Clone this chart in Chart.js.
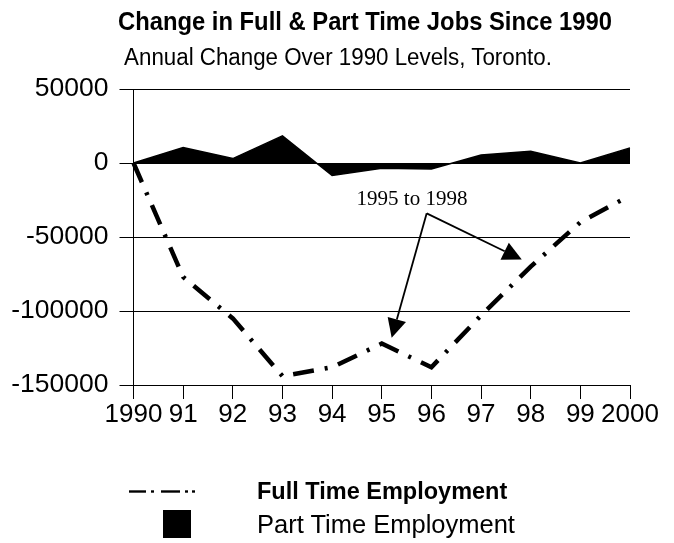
<!DOCTYPE html>
<html><head><meta charset="utf-8">
<script src="https://cdn.jsdelivr.net/npm/chart.js@4.4.0/dist/chart.umd.min.js"></script>
<style>
html,body{margin:0;padding:0;background:#fff;}
#wrap{position:relative;width:674px;height:543px;overflow:hidden;background:#fff;}
#c{position:absolute;left:0;top:0;}
.t{position:absolute;white-space:nowrap;font-family:"Liberation Sans",Arial,sans-serif;color:#000;line-height:1;}
</style></head><body>
<div id="wrap">
<canvas id="c" width="674" height="543"></canvas>
<div class="t" style="left:364.5px;top:21px;transform:translate(-50%,-50%) scaleX(0.915);font-weight:bold;font-size:26px;">Change in Full &amp; Part Time Jobs Since 1990</div>
<div class="t" style="left:338px;top:58px;transform:translate(-50%,-50%) scaleX(0.95);font-size:23.5px;">Annual Change Over 1990 Levels, Toronto.</div>
<svg style="position:absolute;left:0;top:0" width="674" height="543">
  <g stroke="#000" stroke-width="2.4">
    <line x1="129" y1="491.5" x2="146" y2="491.5"/>
    <line x1="151" y1="491.5" x2="154" y2="491.5"/>
    <line x1="161" y1="491.5" x2="180" y2="491.5"/>
    <line x1="185" y1="491.5" x2="188" y2="491.5"/>
    <line x1="192" y1="491.5" x2="195" y2="491.5"/>
  </g>
  <rect x="163" y="510" width="28" height="28" fill="#000"/>
</svg>
<div class="t" style="left:257px;top:491.5px;transform:translateY(-50%);font-weight:bold;font-size:23.5px;">Full Time Employment</div>
<div class="t" style="left:257px;top:525px;transform:translateY(-50%);font-size:25.5px;">Part Time Employment</div>
</div>
<script>
const years = ['1990','91','92','93','94','95','96','97','98','99','2000'];
const fullTime = [0, -77000, -105000, -144000, -138000, -122000, -138000, -103000, -70000, -40000, -22000];
const partTime = [0, 10400, 3000, 18300, -8500, -3500, -4000, 5400, 7900, 0, 10200];
const yTicks = [50000, 0, -50000, -100000, -150000];
const annotationText = '1995 to 1998';
// annotation anchor points in data space: [category index, value]
const annotTextPos = [5.61, -24600];
const annotOrigin = [5.905, -34000];
const annotTips = [[5.20, -118100], [7.82, -65200]];

const FONT = '"Liberation Sans", Arial, sans-serif';

const annot = {
  id: 'annot',
  afterDatasetsDraw(chart) {
    const {ctx, scales: {x, y}} = chart;
    const px = p => [x.getPixelForValue(p[0]), y.getPixelForValue(p[1])];
    ctx.save();
    ctx.fillStyle = '#000';
    ctx.strokeStyle = '#000';
    ctx.font = '21px "Liberation Serif", "Times New Roman", serif';
    ctx.textAlign = 'center';
    ctx.textBaseline = 'middle';
    const tp = px(annotTextPos);
    ctx.fillText(annotationText, tp[0], tp[1]);
    const o = px(annotOrigin);
    ctx.lineWidth = 1.8;
    annotTips.forEach(t => {
      const tip = px(t);
      const dx = tip[0] - o[0], dy = tip[1] - o[1];
      const len = Math.hypot(dx, dy);
      const ux = dx / len, uy = dy / len;
      const hl = 19, hw = 9.5;
      const bx = tip[0] - ux * hl, by = tip[1] - uy * hl;
      ctx.beginPath();
      ctx.moveTo(o[0], o[1]);
      ctx.lineTo(bx, by);
      ctx.stroke();
      ctx.beginPath();
      ctx.moveTo(tip[0], tip[1]);
      ctx.lineTo(bx - uy * hw, by + ux * hw);
      ctx.lineTo(bx + uy * hw, by - ux * hw);
      ctx.closePath();
      ctx.fill();
    });
    ctx.restore();
  }
};

new Chart(document.getElementById('c'), {
  type: 'line',
  data: {
    labels: years,
    datasets: [
      {
        label: 'Full Time Employment',
        data: fullTime,
        borderColor: '#000',
        borderWidth: 4.5,
        borderDash: [21, 11, 3, 11],
        borderCapStyle: 'butt',
        pointRadius: 0,
        fill: false,
        tension: 0,
        order: 0
      },
      {
        label: 'Part Time Employment',
        data: partTime,
        borderColor: '#000',
        backgroundColor: '#000',
        borderWidth: 1.5,
        pointRadius: 0,
        fill: 'origin',
        tension: 0,
        order: 1
      }
    ]
  },
  options: {
    responsive: false,
    animation: false,
    devicePixelRatio: 1,
    layout: {padding: {left: 0, right: 44, top: 89, bottom: 108}},
    plugins: {legend: {display: false}, title: {display: false}, tooltip: {enabled: false}},
    scales: {
      x: {
        type: 'category',
        offset: false,
        grid: {drawOnChartArea: false, drawTicks: true, tickLength: 14, color: '#000', lineWidth: 1},
        border: {display: true, color: '#000', width: 1},
        ticks: {font: {size: 26, family: FONT}, color: '#000', padding: 0, maxRotation: 0, autoSkip: false},
        afterFit: s => { s.height = 50; }
      },
      y: {
        min: -150000,
        max: 50000,
        afterBuildTicks: s => { s.ticks = yTicks.map(v => ({value: v})); },
        ticks: {font: {size: 26.5, family: FONT}, color: '#000', padding: 11, callback: v => String(v)},
        grid: {color: '#000', lineWidth: 1, tickLength: 14, drawTicks: true},
        border: {display: true, color: '#000', width: 1},
        afterFit: s => { s.width = 133.5; }
      }
    }
  },
  plugins: [annot]
});
</script>
</body></html>
